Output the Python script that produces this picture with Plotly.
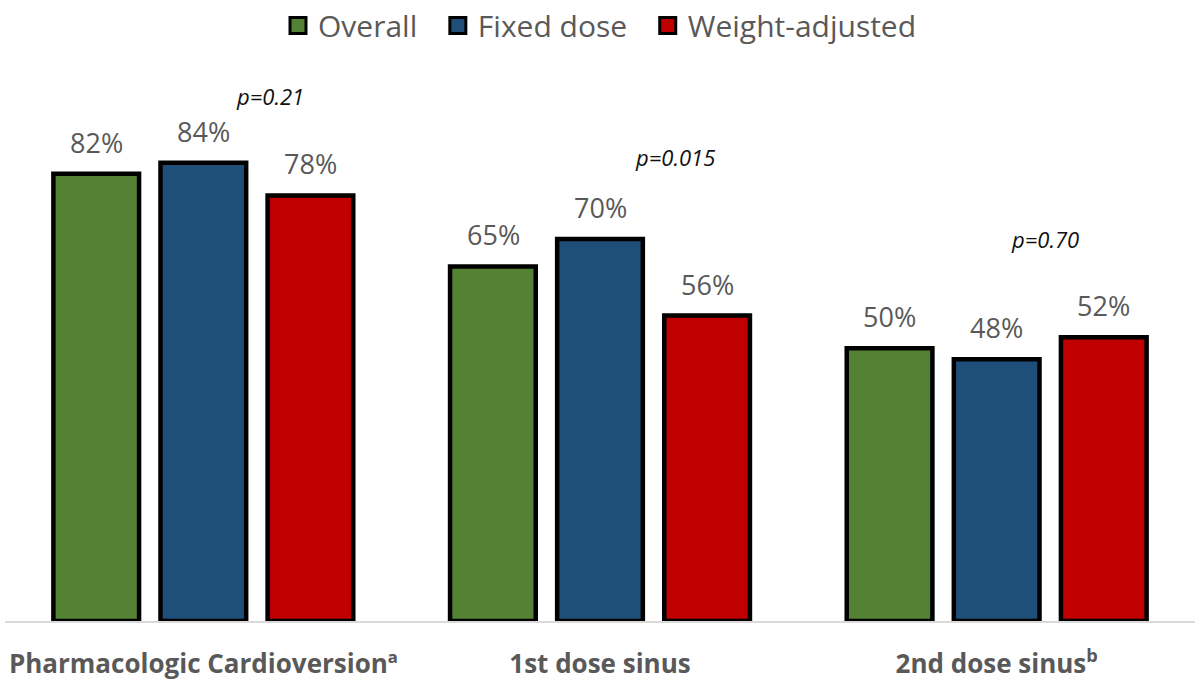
import plotly.graph_objects as go

categories = ["Pharmacologic Cardioversionª", "1st dose sinus", "2nd dose sinus<sup>b</sup>"]
series_names = ["Overall", "Fixed dose", "Weight-adjusted"]
overall = [82, 65, 50]
fixed_dose = [84, 70, 48]
weight_adjusted = [78, 56, 52]
p_values = ["p=0.21", "p=0.015", "p=0.70"]

colors = ["#548235", "#1F4E79", "#C00000"]
series_values = [overall, fixed_dose, weight_adjusted]

FONT = "Open Sans"
GRAY = "#595959"

fig = go.Figure()
for k, (name, vals, col) in enumerate(zip(series_names, series_values, colors)):
    fig.add_trace(go.Bar(
        x=categories, y=vals, name=name,
        marker=dict(color=col, line=dict(color="black", width=4.5)),
        showlegend=False, hoverinfo="skip",
    ))
    # legend proxy with a larger square symbol
    pad = "\u00a0\u00a0" if k < len(series_names) - 1 else ""
    fig.add_trace(go.Scatter(
        x=[None], y=[None], mode="markers", name=name + pad,
        marker=dict(symbol="square", size=16, color=col,
                    line=dict(color="black", width=3)),
        showlegend=True,
    ))

annotations = []
slot = 107
for i, vals in enumerate(series_values):
    for cat, v in zip(categories, vals):
        annotations.append(dict(
            x=cat, y=v, xref="x", yref="y", text=f"{v}%",
            showarrow=False, yanchor="bottom", xshift=(i - 1) * slot, yshift=11,
            font=dict(family=FONT, size=27, color=GRAY),
        ))

p_pos = [(96.3, 67), (85.0, 75), (70.0, 48)]
for cat, p, (py, px) in zip(categories, p_values, p_pos):
    annotations.append(dict(
        x=cat, y=py, xref="x", yref="y", text=f"<i>{p}</i>",
        showarrow=False, xshift=px,
        font=dict(family=FONT, size=22, color="#111111"),
    ))

fig.update_layout(
    width=1200, height=684,
    margin=dict(l=5, r=5, t=70, b=63, autoexpand=False),
    paper_bgcolor="white", plot_bgcolor="white",
    barmode="group", bargap=0.19, bargroupgap=0.2,
    font=dict(family=FONT, color=GRAY),
    legend=dict(orientation="h", x=0.5, xanchor="center", y=1.128, yanchor="top",
                yref="paper", font=dict(family=FONT, size=30, color=GRAY),
                itemsizing="trace", traceorder="normal"),
    xaxis=dict(showline=True, linecolor="#d9d9d9", linewidth=2, showgrid=False,
               ticks="", tickfont=dict(family=FONT, size=26, color=GRAY, weight="bold"),
               ticklabelstandoff=19, zeroline=False),
    yaxis=dict(range=[0, 101], visible=False, showgrid=False, zeroline=False),
    annotations=annotations,
)

fig.write_html("out.html")
